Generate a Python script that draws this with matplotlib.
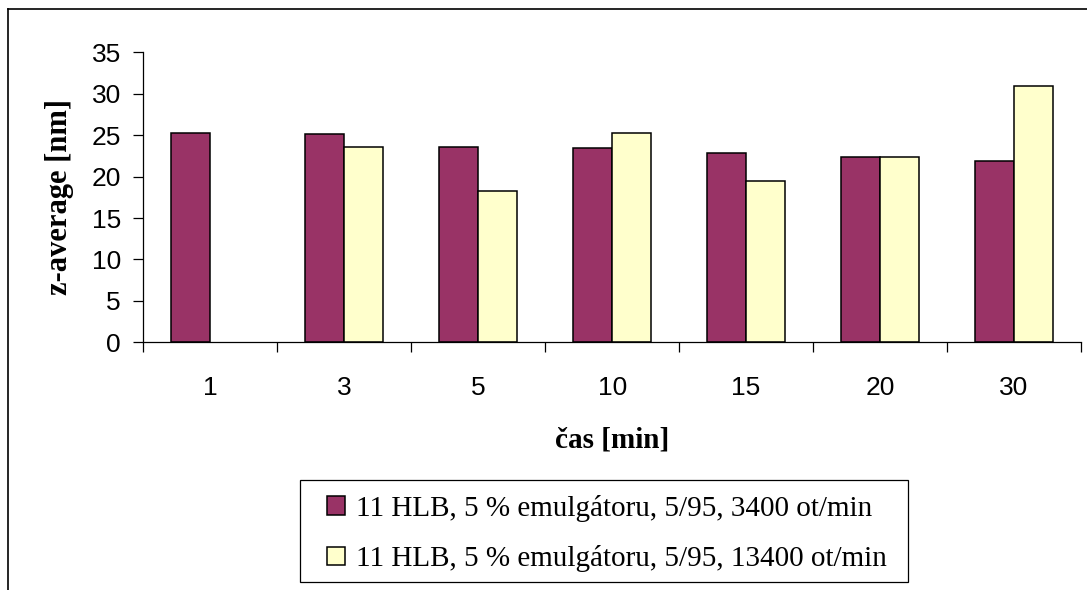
import numpy as np
import matplotlib.pyplot as plt
from matplotlib.lines import Line2D
from matplotlib.patches import Rectangle

# data
categories = ['1', '3', '5', '10', '15', '20', '30']
rpm_3400 = [25.3, 25.1, 23.6, 23.4, 22.9, 22.4, 21.9]
rpm_13400 = [np.nan, 23.6, 18.3, 25.3, 19.5, 22.4, 30.9]
labels = ['11 HLB, 5 % emulgátoru, 5/95, 3400 ot/min',
          '11 HLB, 5 % emulgátoru, 5/95, 13400 ot/min']

W, H = 1087, 590
fig = plt.figure(figsize=(W / 100, H / 100), dpi=100)
ax = fig.add_axes([143.3 / W, 1 - 342.3 / H, (1081 - 143.3) / W, 290 / H])

x = np.arange(len(categories))
bw = 0.29
b1 = ax.bar(x - bw / 2, rpm_3400, bw, color='#993366', edgecolor='black', linewidth=1.1, label=labels[0])
b2 = ax.bar(x + bw / 2, rpm_13400, bw, color='#FFFFCC', edgecolor='black', linewidth=1.1, label=labels[1])

ax.set_xlim(-0.5, len(categories) - 0.5)
ax.set_ylim(0, 35)
ax.set_yticks(range(0, 36, 5))
ax.set_xticks(np.arange(-0.5, len(categories)), labels=[])
ax.set_xticks(x, labels=categories, minor=True)
ax.tick_params(axis='x', which='major', direction='out', length=7, width=0.9)
ax.tick_params(axis='x', which='minor', length=0, pad=24)
ax.tick_params(axis='y', direction='out', length=7, width=0.9, pad=9)
for t in ax.get_xticklabels(minor=True) + ax.get_yticklabels():
    t.set_fontfamily('Liberation Sans')
    t.set_fontsize(19)

for s in ['top', 'right']:
    ax.spines[s].set_visible(False)
for s in ['left', 'bottom']:
    ax.spines[s].set_linewidth(0.9)

fig.text(60 / W, 1 - 197 / H, 'z-average [nm]', rotation=90, ha='center', va='center',
         family='Liberation Serif', weight='bold', fontsize=22)
fig.text(612 / W, 1 - 440 / H, 'čas [min]', ha='center', va='center',
         family='Liberation Serif', weight='bold', fontsize=21)

# legend box drawn separately so its frame matches the reference size
fig.add_artist(Rectangle((300 / W, 1 - 582 / H), 608 / W, 102 / H, transform=fig.transFigure,
                         facecolor='white', edgecolor='black', lw=0.9))
leg = fig.legend(handles=[b1, b2], loc='upper left', bbox_to_anchor=(327 / W, 1 - 495 / H),
                 prop={'family': 'Liberation Serif', 'size': 21}, frameon=False,
                 handlelength=0.6, handleheight=0.6, handletextpad=0.4,
                 borderpad=0, labelspacing=0.8, borderaxespad=0)

# outer chart border (left and top edges visible)
fig.add_artist(Line2D([8 / W, 8 / W], [0, 1 - 9 / H], transform=fig.transFigure, color='black', lw=1.2))
fig.add_artist(Line2D([8 / W, 1], [1 - 9 / H, 1 - 9 / H], transform=fig.transFigure, color='black', lw=1.2))

fig.savefig('out.png', dpi=100, facecolor='white')
